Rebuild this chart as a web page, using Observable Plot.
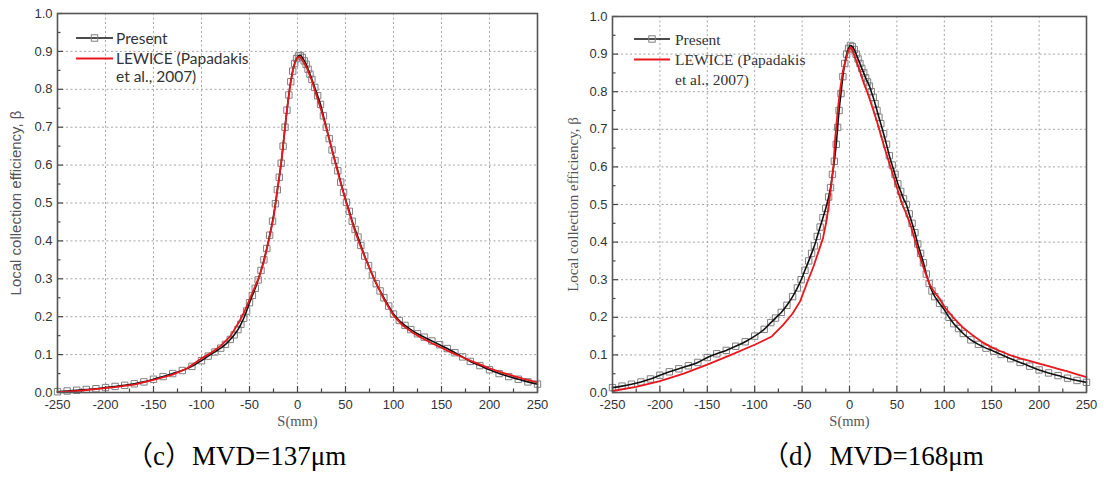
<!DOCTYPE html>
<html><head><meta charset="utf-8">
<script src="https://cdn.jsdelivr.net/npm/d3@7"></script>
<script src="https://cdn.jsdelivr.net/npm/@observablehq/plot@0.6"></script>
<style>
body{margin:0;background:#fff;}
#wrap{position:relative;width:1104px;height:477px;overflow:hidden;background:#fff;}
.panel{position:absolute;top:0;width:552px;height:432px;}
.cap{position:absolute;top:443px;font-family:"Liberation Serif","Noto Sans CJK SC",serif;font-size:27px;line-height:27px;color:#000;white-space:nowrap;}
.leg{position:absolute;left:0;top:0;}
</style></head><body>
<div id="wrap">
  <div class="panel" id="pc" style="left:0"></div>
  <div class="panel" id="pd" style="left:552px"></div>
  <div class="cap" style="left:126px">（c）MVD=137μm</div>
  <div class="cap" style="left:762px">（d）MVD=168μm</div>
</div>
<script>
// ---- axis ticks ----
const xTickVals = [-250,-200,-150,-100,-50,0,50,100,150,200,250];
const xMinorVals = [-225,-175,-125,-75,-25,25,75,125,175,225];
const yTickVals = [0,0.1,0.2,0.3,0.4,0.5,0.6,0.7,0.8,0.9,1.0];
const yMinorVals = [0.05,0.15,0.25,0.35,0.45,0.55,0.65,0.75,0.85,0.95];
const seriesNames = ["Present", "LEWICE (Papadakis", "et al., 2007)"];
const xLabel = "S(mm)";
const yLabel = "Local collection efficiency, β";

// ---- panel (c) MVD=137um ----
const sPresentC = [-250,-240,-230,-220,-210,-200,-190,-180,-170,-160,-150,-140,-130,-120,-110,-100,-93,-86,-80,-75,-70,-66,-62,-59,-56,-53,-50,-47,-44,-41,-38,-35,-32,-29,-26,-23,-21,-19,-17,-15,-13,-11,-9,-7,-5,-3,-1,1,3,5,7,9,11,13,15,18,21,24,27,30,33,36,39,42,45,48,51,54,57,60,63,66,70,74,78,82,86,90,95,100,106,112,118,125,132,140,148,156,164,172,180,190,200,210,220,230,240,250];
const bPresentC = [0.002,0.004,0.006,0.008,0.010,0.013,0.016,0.019,0.023,0.028,0.035,0.042,0.050,0.058,0.069,0.084,0.096,0.107,0.117,0.127,0.140,0.152,0.166,0.180,0.196,0.215,0.237,0.256,0.275,0.297,0.322,0.350,0.380,0.415,0.452,0.498,0.535,0.568,0.605,0.650,0.700,0.745,0.785,0.820,0.848,0.868,0.881,0.888,0.889,0.884,0.875,0.866,0.853,0.840,0.826,0.805,0.783,0.760,0.730,0.700,0.670,0.640,0.612,0.585,0.555,0.528,0.502,0.478,0.452,0.430,0.410,0.388,0.360,0.335,0.310,0.287,0.268,0.250,0.228,0.207,0.190,0.177,0.166,0.155,0.146,0.136,0.126,0.116,0.105,0.094,0.082,0.071,0.060,0.050,0.042,0.035,0.028,0.022];
const sLewiceC = [-250,-230,-210,-190,-170,-150,-130,-115,-100,-90,-80,-70,-60,-55,-50,-45,-40,-35,-30,-25,-20,-17,-14,-11,-8,-5,-2,0,2,5,10,15,20,25,30,35,40,45,50,55,60,65,70,75,80,90,100,110,120,130,140,150,160,170,180,190,200,210,220,230,240,250];
const bLewiceC = [0.001,0.004,0.009,0.014,0.021,0.033,0.047,0.064,0.090,0.105,0.123,0.148,0.190,0.215,0.245,0.275,0.305,0.345,0.400,0.460,0.550,0.605,0.675,0.745,0.805,0.848,0.876,0.884,0.886,0.878,0.855,0.822,0.782,0.742,0.697,0.650,0.600,0.553,0.507,0.465,0.425,0.390,0.358,0.328,0.300,0.246,0.203,0.176,0.158,0.143,0.130,0.118,0.106,0.095,0.084,0.074,0.064,0.055,0.047,0.040,0.033,0.027];

// ---- panel (d) MVD=168um ----
const sPresentD = [-250,-240,-230,-220,-210,-200,-190,-180,-170,-160,-150,-140,-130,-120,-110,-100,-90,-83,-78,-72,-66,-60,-55,-51,-47,-43,-40,-37,-34,-31,-28,-25,-22,-20,-18,-16,-14,-12.5,-11,-9,-7,-5,-3,-1,1,3,5,7,9,11,13,15,17,19,21,23,25,27,29,31,33,36,39,42,45,48,51,54,57,60,63,66,69,72,75,78,81,84,87,90,95,100,105,110,115,120,128,136,144,152,160,170,180,190,200,210,220,230,240,250];
const bPresentD = [0.013,0.017,0.022,0.028,0.036,0.046,0.055,0.063,0.071,0.080,0.093,0.103,0.112,0.123,0.135,0.150,0.168,0.186,0.198,0.213,0.232,0.255,0.278,0.300,0.325,0.350,0.370,0.390,0.415,0.440,0.465,0.490,0.520,0.545,0.580,0.615,0.660,0.705,0.750,0.795,0.840,0.875,0.900,0.915,0.923,0.920,0.912,0.900,0.887,0.875,0.862,0.850,0.837,0.826,0.815,0.800,0.785,0.768,0.750,0.732,0.715,0.688,0.660,0.630,0.605,0.580,0.555,0.535,0.515,0.500,0.475,0.450,0.425,0.395,0.370,0.345,0.315,0.290,0.270,0.255,0.237,0.220,0.200,0.183,0.170,0.157,0.140,0.128,0.118,0.110,0.101,0.090,0.080,0.070,0.060,0.052,0.045,0.038,0.032,0.027];
const sLewiceD = [-250,-225,-200,-175,-150,-125,-100,-90,-82,-70,-60,-52,-45,-38,-32,-28,-24,-20,-17,-15,-12,-9.5,-7,-4,-1,1,3,6,10,15,20,25,30,34.5,38,43,50,55.6,60,65,69.6,75,80,85,90,95,100,110,120,130,140,150,160,170,180,190,200,210,220,230,240,250];
const bLewiceD = [0.004,0.015,0.030,0.050,0.074,0.100,0.127,0.139,0.149,0.180,0.210,0.243,0.290,0.335,0.380,0.410,0.460,0.535,0.600,0.680,0.760,0.812,0.855,0.883,0.910,0.918,0.912,0.890,0.862,0.823,0.790,0.752,0.712,0.672,0.642,0.602,0.545,0.500,0.475,0.440,0.400,0.355,0.318,0.285,0.265,0.250,0.228,0.198,0.172,0.152,0.134,0.120,0.109,0.099,0.091,0.084,0.077,0.070,0.063,0.056,0.048,0.041];

const toRows = (s, b) => s.map((v, i) => ({s: v, b: b[i]}));

function panel({present, lewice, ml, mr, mt, mb, ylabFont, ylabDx}) {
  const W = 552, H = 432;
  const innerW = W - ml - mr, innerH = H - mt - mb;
  const tk = 6, tkm = 3.5;           // tick lengths in px
  const yT = tk / innerH, yTm = tkm / innerH;
  const xT = tk * 500 / innerW, xTm = tkm * 500 / innerW;
  const grid = {stroke: "#9a9a9a", strokeOpacity: 1, strokeWidth: 0.9, strokeDasharray: "2,2.5"};
  return Plot.plot({
    width: W, height: H,
    marginLeft: ml, marginRight: mr, marginTop: mt, marginBottom: mb,
    x: {domain: [-250, 250]},
    y: {domain: [0, 1]},
    style: {fontFamily: "'Liberation Sans', Arial, sans-serif", fontSize: "13px", color: "#333", background: "#fff", overflow: "visible"},
    marks: [
      Plot.gridX(xTickVals.slice(1, -1), grid),
      Plot.gridY(yTickVals.slice(1, -1), grid),
      Plot.axisX(xTickVals, {tickSize: 0, tickPadding: 7, tickFormat: d => String(d), label: null, fill: "#333"}),
      Plot.axisY(yTickVals, {tickSize: 0, tickPadding: 5, tickFormat: d3.format(".1f"), label: null, fill: "#333"}),
      Plot.ruleX(xTickVals, {x: d => d, y1: 0, y2: yT, stroke: "#444", strokeWidth: 1.2}),
      Plot.ruleX(xMinorVals, {x: d => d, y1: 0, y2: yTm, stroke: "#444", strokeWidth: 1.2}),
      Plot.ruleY(yTickVals, {y: d => d, x1: -250, x2: -250 + xT, stroke: "#444", strokeWidth: 1.2}),
      Plot.ruleY(yMinorVals, {y: d => d, x1: -250, x2: -250 + xTm, stroke: "#444", strokeWidth: 1.2}),
      Plot.dot(present, {x: "s", y: "b", symbol: "square", r: 3.6, stroke: "#808080", fill: "none", strokeWidth: 1}),
      Plot.line(present, {x: "s", y: "b", stroke: "#111", strokeWidth: 1.6, curve: "catmull-rom"}),
      Plot.line(lewice, {x: "s", y: "b", stroke: "#e8161d", strokeWidth: 1.8, curve: "linear"}),
      Plot.frame({stroke: "#555", strokeWidth: 1.6}),
      Plot.text([xLabel], {frameAnchor: "bottom", dy: 29, lineAnchor: "middle", textAnchor: "middle",
        fontFamily: "'Liberation Serif', 'DejaVu Serif', serif", fontSize: 14.5, fill: "#555"}),
      Plot.text([yLabel], {frameAnchor: "left", dx: ylabDx, rotate: -90, lineAnchor: "middle", textAnchor: "middle",
        fontFamily: ylabFont, fontSize: 15, fill: "#555"})
    ]
  });
}

function legend(container, {x0, x1, yP, yL, tx, b1, b2, b3, font, size}) {
  const svg = d3.select(container).append("svg").attr("class", "leg")
    .attr("width", 552).attr("height", 100).style("position", "absolute").style("left", "0").style("top", "0");
  svg.append("line").attr("x1", x0).attr("x2", x1).attr("y1", yP).attr("y2", yP).attr("stroke", "#111").attr("stroke-width", 1.6);
  const m = (x0 + x1) / 2;
  svg.append("rect").attr("x", m - 3.2).attr("y", yP - 3.2).attr("width", 6.4).attr("height", 6.4)
    .attr("fill", "none").attr("stroke", "#808080");
  svg.append("line").attr("x1", x0).attr("x2", x1).attr("y1", yL).attr("y2", yL).attr("stroke", "#e8161d").attr("stroke-width", 1.8);
  [b1, b2, b3].forEach((b, i) => {
    svg.append("text").attr("x", tx).attr("y", b).text(seriesNames[i])
      .attr("font-family", font).attr("font-size", size).attr("fill", "#333");
  });
}

const pc = document.getElementById("pc");
pc.appendChild(panel({present: toRows(sPresentC, bPresentC), lewice: toRows(sLewiceC, bLewiceC),
  ml: 57, mr: 15, mt: 13, mb: 40, ylabFont: "'Liberation Sans', Arial, sans-serif", ylabDx: -41}));
legend(pc, {x0: 76, x1: 113, yP: 38, yL: 58.5, tx: 116, b1: 43.5, b2: 63.5, b3: 82, font: "Lato, sans-serif", size: 15.5});

const pd = document.getElementById("pd");
pd.appendChild(panel({present: toRows(sPresentD, bPresentD), lewice: toRows(sLewiceD, bLewiceD),
  ml: 60, mr: 18, mt: 16, mb: 40, ylabFont: "'Liberation Serif', serif", ylabDx: -39}));
legend(pd, {x0: 82, x1: 118, yP: 39, yL: 59.5, tx: 123, b1: 44.5, b2: 65, b3: 85, font: "'Liberation Serif', serif", size: 15.5});
</script>
</body></html>
